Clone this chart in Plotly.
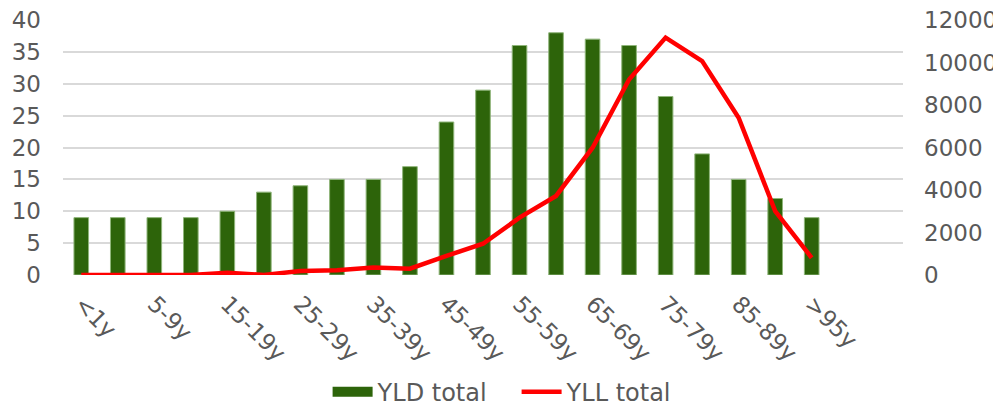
import plotly.graph_objects as go

categories = ["<1y", "1-4y", "5-9y", "10-14y", "15-19y", "20-24y", "25-29y", "30-34y",
              "35-39y", "40-44y", "45-49y", "50-54y", "55-59y", "60-64y", "65-69y",
              "70-74y", "75-79y", "80-84y", "85-89y", "90-94y", ">95y"]
yld_total = [9, 9, 9, 9, 10, 13, 14, 15, 15, 17, 24, 29, 36, 38, 37, 36, 28, 19, 15, 12, 9]
yll_total = [0, 0, 0, 0, 110, 0, 190, 220, 350, 300, 900, 1470, 2700, 3720, 5990,
             9200, 11170, 10070, 7400, 3010, 810]
tick_labels = categories[::2]

font_family = "DejaVu Sans, Verdana, sans-serif"
text_color = "#595959"
grid_color = "#D9D9D9"
green = "#2D640A"
red = "#FF0000"

fig = go.Figure()
fig.add_trace(go.Bar(
    x=categories, y=yld_total, name="YLD total",
    marker=dict(color=green, line=dict(color="#8FB57A", width=1)),
    width=0.4, yaxis="y", showlegend=False,
))
# legend-only swatch for the bars (wide rectangle like the original)
fig.add_trace(go.Scatter(
    x=[None], y=[None], name="YLD total", mode="lines",
    line=dict(color=green, width=13), yaxis="y",
))
fig.add_trace(go.Scatter(
    x=categories, y=yll_total, name="YLL total", mode="lines",
    line=dict(color=red, width=4.5), yaxis="y2",
))

fig.update_layout(
    width=993, height=398,
    margin=dict(l=55, r=98, t=12, b=131),
    paper_bgcolor="white", plot_bgcolor="white",
    font=dict(family=font_family, size=23, color=text_color),
    showlegend=True,
    legend=dict(orientation="h", xref="paper", x=0.54, xanchor="center",
                yref="container", y=0.035, yanchor="middle",
                font=dict(size=24, color=text_color), itemwidth=40,
                entrywidth=134, tracegroupgap=0),
    xaxis=dict(
        type="category", range=[-0.5, 22.5],
        tickmode="array", tickvals=tick_labels, ticktext=tick_labels,
        tickangle=45, showgrid=False, showline=False, zeroline=False,
        ticks="", ticklabelstandoff=10, automargin=False,
        tickfont=dict(size=23, color=text_color),
    ),
    yaxis=dict(
        range=[0, 40], dtick=5, showgrid=True, gridcolor=grid_color, gridwidth=1.5,
        zeroline=False, showline=False, ticks="", ticklabelstandoff=21,
        automargin=False, ticklabeloverflow="allow",
        tickfont=dict(size=23, color=text_color),
    ),
    yaxis2=dict(
        range=[0, 12000], dtick=2000, overlaying="y", side="right", tickformat="d",
        showgrid=False, zeroline=False, showline=False, ticks="", ticklabelstandoff=20,
        automargin=False, ticklabeloverflow="allow",
        tickfont=dict(size=23, color=text_color),
    ),
)

fig.write_html("out.html")
